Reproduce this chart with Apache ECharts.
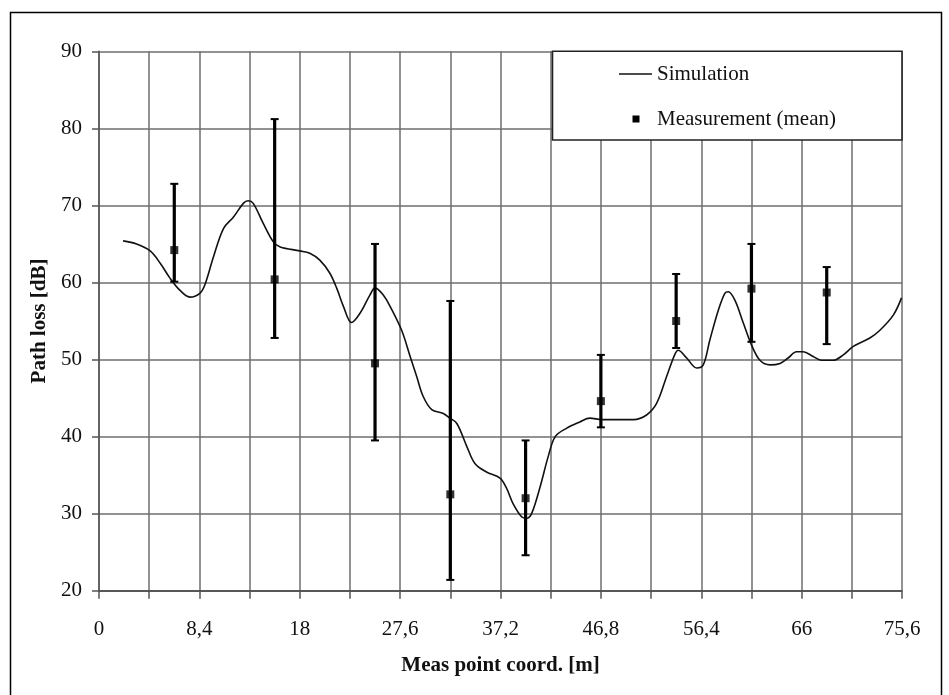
<!DOCTYPE html>
<html>
<head>
<meta charset="utf-8">
<title>Path loss along the measurement track</title>
<script src="https://cdn.jsdelivr.net/npm/echarts@6/dist/echarts.min.js"></script>
<style>
  html, body { margin: 0; padding: 0; background: #ffffff; }
  #chart { width: 949px; height: 695px; }
</style>
</head>
<body>
<div id="chart"></div>
<script>
// Horizontal axis: one step per gridline, a tick label on every second gridline.
const xTickLabels = ['0', '8,4', '18', '27,6', '37,2', '46,8', '56,4', '66', '75,6'];
const xSteps = 16;
const yMin = 20, yMax = 90, yStep = 10;

// Simulated path loss along the track (position in gridline steps, loss in dB)
const simPos = [0.48, 0.75, 1.02, 1.22, 1.41, 1.61, 1.81, 2.01, 2.11, 2.28, 2.48, 2.68, 2.88, 2.97,
  3.07, 3.27, 3.47, 3.61, 4.00, 4.20, 4.40, 4.60, 4.74, 4.87, 5.03, 5.20, 5.40, 5.50, 5.66, 5.80,
  6.03, 6.20, 6.33, 6.46, 6.63, 6.86, 6.99, 7.13, 7.33, 7.49, 7.72, 7.99, 8.12, 8.25, 8.42, 8.52,
  8.62, 8.79, 8.95, 9.09, 9.32, 9.58, 9.78, 10.02, 10.65, 10.91, 11.11, 11.31, 11.47, 11.54, 11.71,
  11.91, 12.04, 12.17, 12.34, 12.47, 12.54, 12.67, 12.84, 13.00, 13.17, 13.37, 13.57, 13.73, 13.90,
  14.03, 14.23, 14.40, 14.63, 14.83, 15.03, 15.36, 15.56, 15.83, 15.99];
const simLoss = [65.4, 65.0, 64.1, 62.5, 60.6, 59.0, 58.1, 58.6, 59.7, 63.3, 67.0, 68.5, 70.3, 70.6,
  70.3, 67.7, 65.3, 64.6, 64.1, 63.8, 62.9, 61.2, 59.2, 56.9, 54.8, 56.0, 58.4, 59.3, 58.4, 56.9,
  53.8, 50.4, 47.8, 45.2, 43.5, 43.0, 42.4, 41.7, 38.7, 36.5, 35.4, 34.6, 33.3, 31.3, 29.6, 29.4,
  30.0, 33.5, 37.4, 40.0, 41.1, 41.9, 42.4, 42.2, 42.2, 42.8, 44.3, 47.8, 50.6, 51.2, 50.2,
  48.9, 49.3, 52.5, 56.4, 58.6, 58.8, 57.7, 54.7, 51.9, 49.9, 49.3, 49.5, 50.2, 51.0,
  51.0, 50.4, 49.9, 49.9, 50.6, 51.7, 52.8, 53.8, 55.8, 58.0];

// Measured path loss: mean with the observed spread (min / max)
const measPos = [1.5, 3.5, 5.5, 7, 8.5, 10, 11.5, 13, 14.5];
const measMean = [64.2, 60.4, 49.5, 32.5, 32.0, 44.6, 55.0, 59.2, 58.7];
const measMax = [72.8, 81.2, 65.0, 57.6, 39.5, 50.6, 61.1, 65.0, 62.0];
const measMin = [60.1, 52.8, 39.5, 21.4, 24.6, 41.2, 51.5, 52.3, 52.0];

const FONT = "'Liberation Serif', 'Times New Roman', serif";
const INK = '#111111';
const GRID = '#6e6e6e';

const simData = simPos.map((p, i) => [p, simLoss[i]]);
const meanData = measPos.map((p, i) => [p, measMean[i]]);
const rangeData = measPos.map((p, i) => [p, measMin[i], measMax[i]]);

const chart = echarts.init(document.getElementById('chart'), null, { renderer: 'canvas' });

// Legend box in the upper right corner of the plot
const legendBox = { x: 552.5, y: 51.3, w: 349.5, h: 88.7 };
const LZ = 200;

chart.setOption({
  backgroundColor: '#ffffff',
  animation: false,
  grid: { left: 99, right: 47, top: 51.3, bottom: 104.3, containLabel: false },
  xAxis: {
    type: 'value',
    min: 0, max: xSteps, interval: 1,
    name: 'Meas point coord. [m]',
    nameLocation: 'middle',
    nameGap: 64,
    nameTextStyle: { fontFamily: FONT, fontSize: 21, fontWeight: 'bold', color: INK },
    axisLine: { show: true, onZero: false, lineStyle: { color: '#444', width: 1.5 } },
    axisTick: { show: true, length: 8, lineStyle: { color: '#555', width: 1.5 } },
    axisLabel: {
      show: true, showMinLabel: true, showMaxLabel: true,
      margin: 28,
      fontFamily: FONT, fontSize: 21, color: INK,
      formatter: v => {
        const k = Math.round(v);
        return k % 2 === 0 ? xTickLabels[k / 2] : '';
      }
    },
    splitLine: { show: true, lineStyle: { color: GRID, width: 1.5 } }
  },
  yAxis: {
    type: 'value',
    min: yMin, max: yMax, interval: yStep,
    name: 'Path loss [dB]',
    nameLocation: 'middle',
    nameGap: 45,
    nameTextStyle: { fontFamily: FONT, fontSize: 21, fontWeight: 'bold', color: INK },
    axisLine: { show: true, lineStyle: { color: '#555', width: 1.5 } },
    axisTick: { show: true, length: 7, lineStyle: { color: '#555', width: 1.5 } },
    axisLabel: { margin: 17, fontFamily: FONT, fontSize: 21, color: INK },
    splitLine: { show: true, lineStyle: { color: GRID, width: 1.5 } }
  },
  series: [
    {
      name: 'Simulation',
      type: 'line',
      data: simData,
      smooth: 0.35,
      showSymbol: false,
      lineStyle: { color: INK, width: 1.6 },
      z: 3
    },
    {
      name: 'Measurement range',
      type: 'custom',
      data: rangeData,
      z: 4,
      renderItem: (params, api) => {
        const lo = api.coord([api.value(0), api.value(1)]);
        const hi = api.coord([api.value(0), api.value(2)]);
        const cap = 4;
        return {
          type: 'group',
          children: [
            { type: 'line', shape: { x1: lo[0], y1: lo[1], x2: hi[0], y2: hi[1] },
              style: { stroke: '#000', lineWidth: 3.2 } },
            { type: 'line', shape: { x1: hi[0] - cap, y1: hi[1], x2: hi[0] + cap, y2: hi[1] },
              style: { stroke: '#000', lineWidth: 2 } },
            { type: 'line', shape: { x1: lo[0] - cap, y1: lo[1], x2: lo[0] + cap, y2: lo[1] },
              style: { stroke: '#000', lineWidth: 2 } }
          ]
        };
      }
    },
    {
      name: 'Measurement (mean)',
      type: 'scatter',
      data: meanData,
      symbol: 'rect',
      symbolSize: 8,
      itemStyle: { color: '#000' },
      z: 5
    }
  ],
  graphic: [
    // frame around the figure
    {
      type: 'rect', z: LZ + 10, silent: true,
      shape: { x: 10.5, y: 12.5, width: 931, height: 700 },
      style: { fill: 'none', stroke: '#000', lineWidth: 1.5 }
    },
    {
      type: 'rect', z: LZ,
      shape: { x: legendBox.x, y: legendBox.y, width: legendBox.w, height: legendBox.h },
      style: { fill: '#ffffff', stroke: '#222', lineWidth: 1.6 }
    },
    {
      type: 'line', z: LZ + 1,
      shape: { x1: 619, y1: 74, x2: 652, y2: 74 },
      style: { stroke: INK, lineWidth: 1.6 }
    },
    {
      type: 'text', z: LZ + 1,
      style: { x: 657, y: 74, text: 'Simulation', fontFamily: FONT, fontSize: 21,
        fill: INK, verticalAlign: 'middle', align: 'left' }
    },
    {
      type: 'rect', z: LZ + 1,
      shape: { x: 632.5, y: 115.5, width: 7, height: 7 },
      style: { fill: '#000' }
    },
    {
      type: 'text', z: LZ + 1,
      style: { x: 657, y: 119, text: 'Measurement (mean)', fontFamily: FONT, fontSize: 21,
        fill: INK, verticalAlign: 'middle', align: 'left' }
    }
  ]
});
</script>
</body>
</html>
